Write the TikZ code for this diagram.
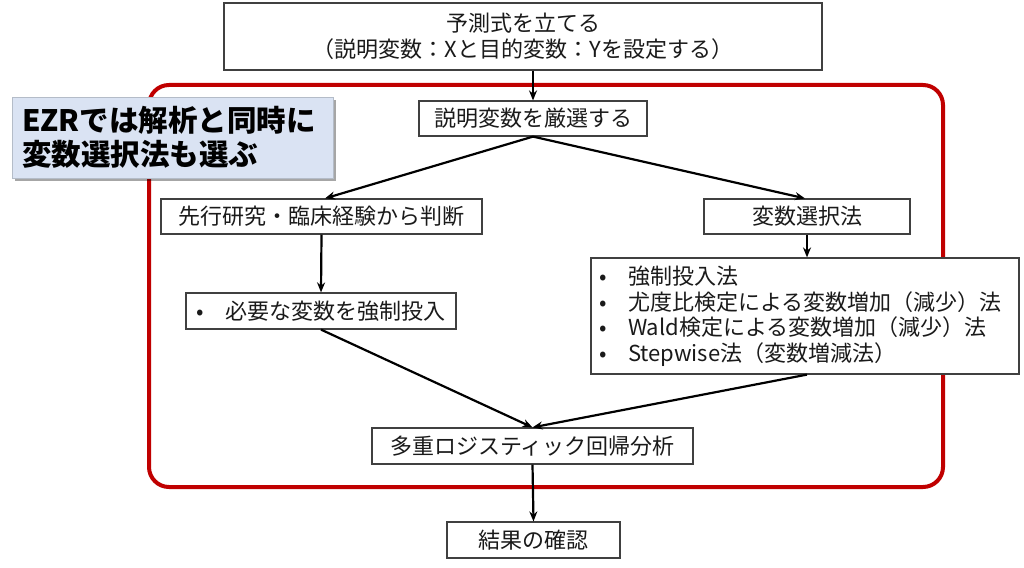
\documentclass[tikz,border=0pt]{standalone}
\usepackage{fontspec}
\setmainfont{Noto Sans CJK JP}
\usetikzlibrary{arrows.meta,shadows}
\definecolor{framered}{HTML}{C00000}
\definecolor{callfill}{HTML}{DAE3F3}
\definecolor{callline}{HTML}{B4BCC8}
\definecolor{boxline}{HTML}{404040}
\definecolor{txt}{HTML}{1A1A1A}
\tikzset{
  box/.style={draw=boxline, line width=1.2pt, fill=white, inner sep=0pt,
    font=\fontsize{22pt}{26pt}\selectfont, text=txt, align=center},
  listbox/.style={box, align=left, inner xsep=8pt},
  arr/.style={-{Stealth[length=10pt,width=8pt]}, line width=2.2pt, black},
  frame/.style={draw=framered, line width=4pt, rounded corners=20pt},
  callout/.style={draw=callline, line width=0.8pt, fill=callfill, inner xsep=10pt,
    align=left, text=black, font=\fontsize{29.5pt}{34pt}\selectfont\bfseries,
    drop shadow={shadow xshift=3pt, shadow yshift=-3pt, opacity=0.35, fill=black}}
}
\newcommand{\blt}{\makebox[29pt][l]{•}}
\begin{document}
\begin{tikzpicture}[x=1pt,y=-1pt]
\useasboundingbox (0,0) rectangle (1024,567);
\fill[white] (0,0) rectangle (1024,567);
% red frame
\draw[frame] (149,85) rectangle (943,487);
% nodes
\node[box, minimum width=598pt, minimum height=67pt] (top) at (523,36.5)
  {予測式を立てる\\（説明変数：Xと目的変数：Yを設定する）};
\node[box, minimum width=228pt, minimum height=35pt] (gen) at (533,118.5) {説明変数を厳選する};
\node[box, minimum width=321pt, minimum height=35pt] (sen) at (321.5,216.5) {先行研究・臨床経験から判断};
\node[box, minimum width=206pt, minimum height=35pt] (hen) at (807,216.5) {変数選択法};
\node[box, inner xsep=10pt, minimum width=270pt, minimum height=36pt] (hitsu) at (321,311)
  {\blt 必要な変数を強制投入};
\node[listbox, text width=412pt, minimum width=428pt, minimum height=116pt,
  font=\fontsize{22pt}{25.5pt}\selectfont] (meth) at (805,316)
  {\blt 強制投入法\\
   \blt 尤度比検定による変数増加（減少）法\\
   \blt Wald検定による変数増加（減少）法\\
   \blt Stepwise法（変数増減法）};
\node[box, minimum width=321pt, minimum height=36pt] (tako) at (532.5,446) {多重ロジスティック回帰分析};
\node[box, minimum width=173pt, minimum height=36pt] (kekka) at (533.5,540) {結果の確認};
\node[callout, minimum width=321pt, minimum height=81pt, text width=301pt] (call) at (172.5,137.5)
  {EZRでは解析と同時に\\変数選択法も選ぶ};
% connectors
\draw[arr] (top.south -| gen.north) -- (gen.north);
\draw[arr] (gen.south) -- ([xshift=3.5pt]sen.north);
\draw[arr] (gen.south) -- ([xshift=-2pt]hen.north);
\draw[arr] (sen.south) -- (hitsu.north);
\draw[arr] (hen.south) -- (meth.north -| hen.south);
\draw[arr] (hitsu.south) -- (tako.north);
\draw[arr] (meth.south -| hen.south) -- (tako.north);
\draw[arr] (tako.south) -- (kekka.north);
\end{tikzpicture}
\end{document}
